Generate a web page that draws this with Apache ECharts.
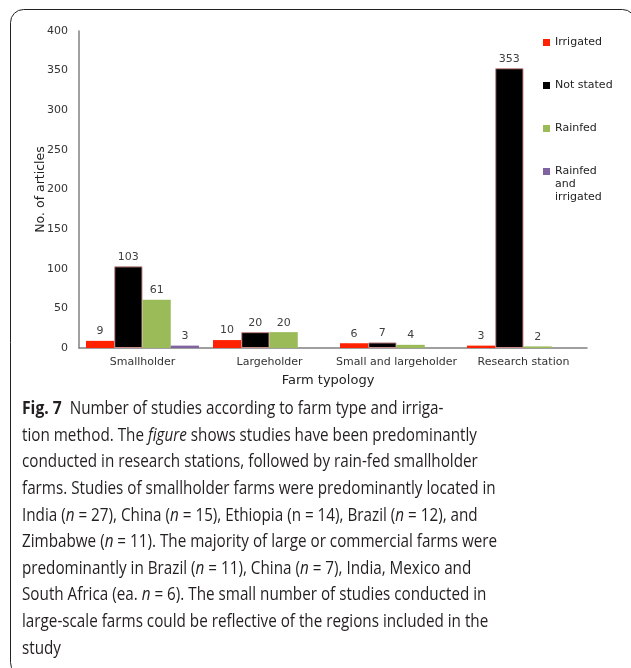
<!DOCTYPE html>
<html><head><meta charset="utf-8">
<script src="https://cdn.jsdelivr.net/npm/echarts@6/dist/echarts.min.js"></script>
<style>html,body{margin:0;padding:0;background:#fff;}#c{width:631px;height:668px;}</style>
</head><body><div id="c"></div>
<script>
const categories = ['Smallholder', 'Largeholder', 'Small and largeholder', 'Research station'];
const seriesNames = ['Irrigated', 'Not stated', 'Rainfed', 'Rainfed and irrigated'];
const irrigated = [9, 10, 6, 3];
const notStated = [103, 20, 7, 353];
const rainfed = [61, 20, 4, 2];
const rainfedIrrigated = [3, '-', '-', '-'];
const yTicks = [0, 50, 100, 150, 200, 250, 300, 350, 400];

const colors = ['#ff2200', '#000000', '#9bbb59', '#8064a2'];
const chartFont = 'DejaVu Sans';
const capFont = 'Open Sans';

const captionText =
  '{b|Fig. 7}  Number of studies according to farm type and irriga-\n' +
  'tion method. The {i|figure} shows studies have been predominantly\n' +
  'conducted in research stations, followed by rain-fed smallholder\n' +
  'farms. Studies of smallholder farms were predominantly located in\n' +
  'India ({i|n} = 27), China ({i|n} = 15), Ethiopia (n = 14), Brazil ({i|n} = 12), and\n' +
  'Zimbabwe ({i|n} = 11). The majority of large or commercial farms were\n' +
  'predominantly in Brazil ({i|n} = 11), China ({i|n} = 7), India, Mexico and\n' +
  'South Africa (ea. {i|n} = 6). The small number of studies conducted in\n' +
  'large-scale farms could be reflective of the regions included in the\n' +
  'study';

function mkSeries(name, data, idx) {
  return {
    name: name, type: 'bar', data: data, barGap: '0%', barCategoryGap: '11%',
    itemStyle: { color: colors[idx], borderColor: idx === 1 ? '#c98a8a' : colors[idx], borderWidth: idx === 1 ? 1 : 0 },
    label: { show: true, position: 'top', distance: 4, color: '#404040', fontFamily: chartFont, fontSize: 11 }
  };
}

const legendText = { fontFamily: chartFont, fontSize: 11, color: '#222', lineHeight: 13 };

const chart = echarts.init(document.getElementById('c'), null, { renderer: 'canvas' });
chart.setOption({
  animation: false,
  backgroundColor: '#fff',
  grid: { left: 79, right: 44, top: 31, bottom: 320, containLabel: false },
  legend: [{
    orient: 'vertical', left: 538, top: 31, itemWidth: 7, itemHeight: 7, itemGap: 30,
    icon: 'rect', data: seriesNames.slice(0, 3),
    itemStyle: { borderWidth: 0 },
    textStyle: legendText
  }, {
    orient: 'vertical', left: 538, top: 134, itemWidth: 7, itemHeight: 7,
    icon: 'rect', data: [seriesNames[3]],
    itemStyle: { borderWidth: 0 },
    formatter: function () { return ' \n \nRainfed\nand\nirrigated'; },
    textStyle: legendText
  }],
  xAxis: {
    type: 'category', data: categories,
    axisLine: { lineStyle: { color: '#808080', width: 1.5 } },
    axisTick: { show: false },
    axisLabel: { color: '#333', fontFamily: chartFont, fontSize: 11, margin: 9, interval: 0 },
    name: 'Farm typology', nameLocation: 'middle', nameGap: 26, nameMoveOverlap: false,
    nameTextStyle: { color: '#222', fontFamily: chartFont, fontSize: 13, padding: [0, 10, 0, 0] }
  },
  yAxis: {
    type: 'value', min: yTicks[0], max: yTicks[yTicks.length - 1], interval: 50,
    axisLine: { show: true, lineStyle: { color: '#808080', width: 1.5 } },
    axisTick: { show: false },
    splitLine: { show: false },
    axisLabel: { color: '#333', fontFamily: chartFont, fontSize: 11, margin: 11 },
    name: 'No. of articles', nameLocation: 'middle', nameGap: 32, nameMoveOverlap: false,
    nameTextStyle: { color: '#222', fontFamily: chartFont, fontSize: 12.5 }
  },
  series: [
    mkSeries(seriesNames[0], irrigated, 0),
    mkSeries(seriesNames[1], notStated, 1),
    mkSeries(seriesNames[2], rainfed, 2),
    mkSeries(seriesNames[3], rainfedIrrigated, 3)
  ],
  graphic: [{
    type: 'rect', silent: true,
    shape: { x: 10.5, y: 9.5, width: 625, height: 666, r: 13 },
    style: { fill: 'none', stroke: '#222', lineWidth: 1 }
  }, {
    type: 'text', left: 22, top: 396, scaleX: 0.871, originX: 0, originY: 0,
    style: {
      text: captionText, fontFamily: capFont, fontSize: 17.5, lineHeight: 26.6, fill: '#231f20',
      rich: {
        b: { fontWeight: 'bold', fontFamily: capFont, fontSize: 18, lineHeight: 26.6, fill: '#231f20' },
        i: { fontStyle: 'italic', fontFamily: capFont, fontSize: 17.5, lineHeight: 26.6, fill: '#231f20' }
      }
    }
  }]
});
</script></body></html>
